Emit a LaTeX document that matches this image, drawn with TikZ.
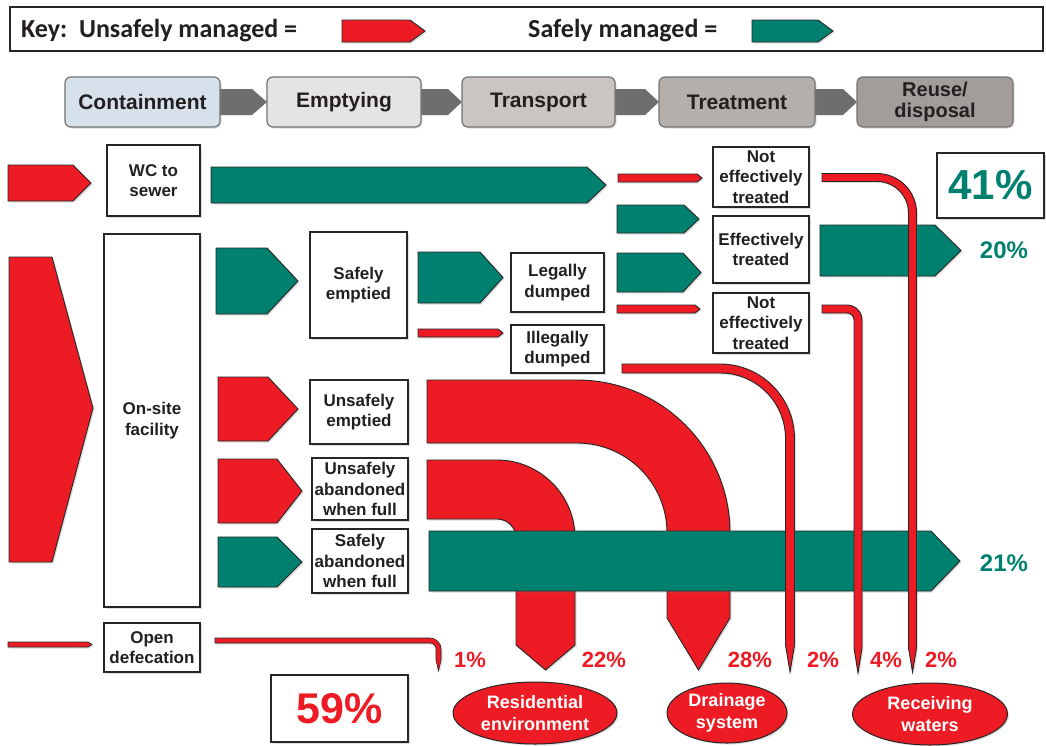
\documentclass[tikz,border=0pt]{standalone}
\usepackage{fontspec}
\setmainfont{Liberation Sans}
\newfontfamily\keyfont{Carlito}
\usetikzlibrary{shadows,shapes.geometric}
\definecolor{ured}{HTML}{ED1C24}
\definecolor{sgreen}{HTML}{00806E}
\definecolor{txt}{HTML}{231F20}
\definecolor{pcont}{HTML}{D7E1EC}
\definecolor{pempt}{HTML}{E6E4E3}
\definecolor{ptran}{HTML}{CBC5C1}
\definecolor{ptreat}{HTML}{B5AFAB}
\definecolor{preuse}{HTML}{A29D9A}
\definecolor{parrow}{HTML}{6E6E6E}
\tikzset{
  shad/.style={drop shadow={opacity=0.25,shadow xshift=1.5pt,shadow yshift=-1.5pt}},
  redsh/.style={fill=ured,draw=black!85,line width=0.9pt,shad},
  greensh/.style={fill=sgreen,draw=black!85,line width=0.9pt,shad},
  graysh/.style={fill=parrow,draw=none},
  boxx/.style={draw=black!85,line width=1.3pt,fill=white,align=center,inner sep=0pt,
    text=txt,font=\fontsize{17}{20.5}\selectfont\bfseries,shad},
  procbox/.style={draw=black!55,line width=1.2pt,rounded corners=6pt,align=center,inner sep=0pt,
    text=txt,font=\fontsize{21}{22}\selectfont\bfseries,minimum height=50pt,shad},
  keytext/.style={anchor=west,inner sep=0pt,text=txt,font=\keyfont\fontsize{26}{28}\selectfont\bfseries},
  pct/.style={text=ured,font=\fontsize{22}{24}\selectfont\bfseries,inner sep=0pt},
  gpct/.style={text=sgreen,font=\fontsize{24}{26}\selectfont\bfseries,inner sep=0pt},
  ellip/.style={ellipse,fill=ured,draw=black!85,line width=1pt,text=white,align=center,inner sep=0pt,
    font=\fontsize{18}{22}\selectfont\bfseries,shad}
}
% pentagon arrow: style, x1, ytop, xtipstart, xtip, ybottom
\newcommand\pent[6]{\draw[#1] (#2,#3) -- (#4,#3) -- (#5,{(#3+#6)/2}) -- (#4,#6) -- (#2,#6) -- cycle;}
% bent band: style, x0, ytop, ybot, xc, R(outer), ytaper, ytip
\newcommand\band[8]{%
  \pgfmathsetmacro\bdW{#4-#3}%
  \pgfmathsetmacro\bdRi{#6-\bdW}%
  \pgfmathsetmacro\bdCy{#3+#6}%
  \pgfmathsetmacro\bdXo{#5+#6}%
  \pgfmathsetmacro\bdXi{#5+\bdRi}%
  \pgfmathsetmacro\bdXm{(\bdXo+\bdXi)/2}%
  \pgfmathsetmacro\bdKo{0.5523*#6}%
  \pgfmathsetmacro\bdKi{0.5523*\bdRi}%
  \draw[#1] (#2,#3) -- (#5,#3) .. controls ({#5+\bdKo},#3) and (\bdXo,{\bdCy-\bdKo}) .. (\bdXo,\bdCy)
    -- (\bdXo,#7) -- (\bdXm,#8) -- (\bdXi,#7) -- (\bdXi,\bdCy)
    .. controls (\bdXi,{\bdCy-\bdKi}) and ({#5+\bdKi},#4) .. (#5,#4) -- (#2,#4) -- cycle;}
\begin{document}
\begin{tikzpicture}[x=1pt,y=-1pt]
\useasboundingbox (0,0) rectangle (1046,745);
\fill[white] (0,0) rectangle (1046,745);
% key
\draw[line width=1.6pt,black!85] (10,7) rectangle (1043,51);
\node[keytext] (keyA) at (21,31) {Key:\ \ Unsafely managed =};
\node[keytext] (keyB) at (528,31) {Safely managed =};
\pent{redsh}{342}{20}{410}{425}{42}
\pent{greensh}{752}{20}{818}{833}{42}
% process row
\pent{graysh}{215}{89}{252}{267}{115}
\pent{graysh}{415}{89}{448}{462}{115}
\pent{graysh}{610}{89}{645}{659}{115}
\pent{graysh}{810}{89}{843}{857}{115}
\node[procbox,fill=pcont,minimum width=155pt] (pc) at (142.5,102) {Containment};
\node[procbox,fill=pempt,minimum width=154pt] (pe) at (344,102) {Emptying};
\node[procbox,fill=ptran,minimum width=153pt] (pt) at (538.5,102) {Transport};
\node[procbox,fill=ptreat,minimum width=156pt] (ptr) at (737,102) {Treatment};
\node[procbox,fill=preuse,minimum width=156pt,font=\fontsize{20}{21}\selectfont\bfseries] (pr) at (935,102) {Reuse/\\disposal};
% boxes
\node[boxx,minimum width=93pt,minimum height=71pt] (wc) at (153.5,180.5) {WC to\\sewer};
\node[boxx,minimum width=96pt,minimum height=373pt] (onsite) at (152,420.5) {On-site\\facility};
\node[boxx,minimum width=97pt,minimum height=106pt] (semp) at (358.5,285) {Safely\\emptied};
\node[boxx,minimum width=93pt,minimum height=59pt] (legal) at (557.5,282.5) {Legally\\dumped};
\node[boxx,minimum width=93pt,minimum height=48pt] (illegal) at (557.5,349) {Illegally\\dumped};
\node[boxx,minimum width=96pt,minimum height=60pt] (ne1) at (761,177) {Not\\effectively\\treated};
\node[boxx,minimum width=96pt,minimum height=67pt] (eff) at (761,249.5) {Effectively\\treated};
\node[boxx,minimum width=96pt,minimum height=60pt] (ne2) at (761,323) {Not\\effectively\\treated};
\node[boxx,minimum width=98pt,minimum height=64pt] (uemp) at (359,412) {Unsafely\\emptied};
\node[boxx,minimum width=96pt,minimum height=62pt] (uab) at (360,489) {Unsafely\\abandoned\\when full};
\node[boxx,minimum width=96pt,minimum height=64pt] (sab) at (360,561) {Safely\\abandoned\\when full};
\node[boxx,minimum width=96pt,minimum height=49pt] (od) at (152,647.5) {Open\\defecation};
\node[boxx,line width=2pt,minimum width=107pt,minimum height=65pt,text=sgreen,font=\fontsize{42}{44}\selectfont\bfseries] (p41) at (990.5,185.5) {41\%};
\node[boxx,line width=2pt,minimum width=137pt,minimum height=67pt,text=ured,font=\fontsize{43}{45}\selectfont\bfseries] (p59) at (339.5,708.5) {59\%};
% arrows
\pent{redsh}{8}{165}{73}{91}{201}
\pent{greensh}{211}{167}{587}{606}{203}
\pent{redsh}{618}{174}{697}{702}{182}
\pent{greensh}{617}{205}{684}{699}{233}
\pent{greensh}{820}{225}{935}{961}{276}
\pent{greensh}{617}{253}{683}{701}{292}
\pent{redsh}{617}{305}{695}{700}{313}
\draw[redsh] (9,257) -- (52,257) -- (93,408) -- (52,562) -- (9,562) -- cycle;
\pent{greensh}{216}{248}{267}{298}{314}
\pent{greensh}{418}{252}{480}{503}{303}
\pent{redsh}{418}{329}{498}{503}{337}
\pent{redsh}{218}{377}{268}{298}{441}
\pent{redsh}{218}{459}{277}{302}{523}
\pent{greensh}{218}{537}{277}{302}{587}
\pent{redsh,line width=0.7pt}{8}{642}{88}{92}{647}
% big bands
\band{redsh}{427}{380}{443}{577}{153}{618}{670}
\band{redsh}{427}{460}{519}{497}{78}{645}{670}
\pent{greensh}{429}{531}{931}{960}{591}
% thin flows
\band{redsh}{622}{364}{373}{720}{74.5}{645}{672}
\band{redsh}{822}{305}{313}{847}{15}{648}{673}
\band{redsh}{822}{173.5}{181.5}{877}{39.5}{648}{672}
\band{redsh,line width=0.6pt}{215}{638}{643}{430}{11}{660}{671}
% percentages
\node[gpct] (g20) at (1004,250) {20\%};
\node[gpct] (g21) at (1004,563) {21\%};
\node[pct] (r1) at (470,660) {1\%};
\node[pct] (r22) at (604,660) {22\%};
\node[pct] (r28) at (750,660) {28\%};
\node[pct] (r2a) at (823,660) {2\%};
\node[pct] (r4) at (886,660) {4\%};
\node[pct] (r2b) at (941,660) {2\%};
% destinations
\node[ellip,minimum width=164pt,minimum height=62pt] (res) at (535,713) {Residential\\environment};
\node[ellip,minimum width=120pt,minimum height=60pt] (drain) at (727,713) {Drainage\\system};
\node[ellip,minimum width=155pt,minimum height=62pt] (recv) at (930,714) {Receiving\\waters};
\end{tikzpicture}
\end{document}
